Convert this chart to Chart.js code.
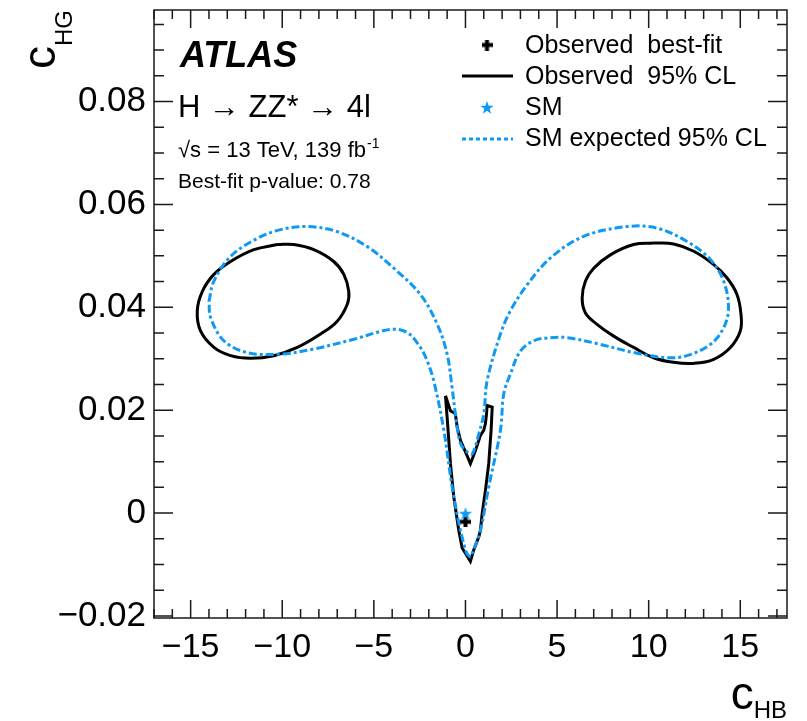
<!DOCTYPE html>
<html>
<head>
<meta charset="utf-8">
<title>cHG vs cHB</title>
<script src="https://cdn.jsdelivr.net/npm/chart.js@4.4.1/dist/chart.umd.min.js"></script>
<style>
    html, body { margin: 0; padding: 0; background: #fff; }
    #wrap { position: relative; width: 807px; height: 721px; }
</style>
</head>
<body>
<div id="wrap"><canvas id="contourChart"></canvas></div>
<script>
// Eksen aralıkları ve tick değerleri
const xRange = [-17, 17.55];
const yRange = [-0.0204, 0.0978];
const xMajorTicks = [-15, -10, -5, 0, 5, 10, 15];
const yMajorTicks = [-0.02, 0, 0.02, 0.04, 0.06, 0.08];
const xMinorStep = 1;
const yMinorStep = 0.005;

// Gözlenen %95 CL konturu (üç parça)
const obsLeftLoop = [
    [-10.27, 0.0522], [-11.55, 0.0512], [-12.82, 0.0489], [-13.73, 0.0464], [-14.36, 0.0431],
    [-14.64, 0.0393], [-14.46, 0.0354], [-13.73, 0.0322], [-12.82, 0.0306], [-11.73, 0.0301],
    [-10.46, 0.0306], [-9.18, 0.0322], [-7.91, 0.0348], [-7.0, 0.0373], [-6.45, 0.0406],
    [-6.37, 0.0431], [-6.64, 0.0464], [-7.19, 0.0489], [-8.28, 0.0512], [-9.37, 0.0522],
    [-10.27, 0.0522]
];
const obsRightLoop = [
    [10.27, 0.0525], [9.18, 0.0522], [7.91, 0.0502], [7.0, 0.0476], [6.55, 0.0451],
    [6.37, 0.0418], [6.55, 0.0389], [7.18, 0.0367], [8.09, 0.0344], [9.18, 0.0322],
    [10.27, 0.0302], [11.36, 0.0293], [12.46, 0.0291], [13.55, 0.0299], [14.46, 0.0322],
    [15.0, 0.0354], [15.04, 0.0386], [14.82, 0.0425], [14.28, 0.0457], [13.55, 0.0483],
    [12.46, 0.0509], [11.36, 0.0523], [10.27, 0.0525]
];
const obsCentre = [
    [-1.09, 0.0228], [-0.82, 0.0199], [-0.55, 0.0193], [-0.45, 0.0167], [-0.27, 0.0141],
    [0.0, 0.0119], [0.27, 0.0096], [0.55, 0.0122], [0.82, 0.0151], [1.0, 0.0161],
    [1.09, 0.0174], [1.15, 0.0193], [1.18, 0.0209], [1.46, 0.0206], [1.40, 0.0161],
    [1.27, 0.0096], [1.09, 0.0044], [0.91, -0.0001], [0.82, -0.0033], [0.73, -0.0046],
    [0.45, -0.0072], [0.27, -0.0094], [-0.18, -0.0068], [-0.37, -0.0033], [-0.64, 0.0032],
    [-0.82, 0.0096], [-1.0, 0.0186], [-1.09, 0.0228]
];

// SM beklenen %95 CL konturu (tek kapalı eğri)
const expContour = [
    [-14.0, 0.0412], [-13.73, 0.0451], [-12.82, 0.0499], [-11.36, 0.0534], [-10.09, 0.0551],
    [-8.64, 0.0557], [-7.0, 0.0547], [-5.36, 0.0518], [-3.91, 0.0476], [-2.46, 0.0425],
    [-1.54, 0.0367], [-1.0, 0.0309], [-0.73, 0.0244], [-0.55, 0.0193], [-0.27, 0.0135],
    [0.09, 0.0119], [0.37, 0.0115], [0.73, 0.0154], [1.0, 0.0193], [1.18, 0.0257],
    [1.91, 0.0348], [2.45, 0.0393], [3.37, 0.0444], [4.64, 0.0496], [6.45, 0.0538],
    [8.82, 0.0557], [10.46, 0.0554], [12.09, 0.0528], [13.37, 0.0493], [14.09, 0.0451],
    [14.36, 0.0399], [14.09, 0.0360], [13.37, 0.0328], [12.09, 0.0306], [11.0, 0.0302],
    [9.18, 0.0312], [7.36, 0.0328], [5.55, 0.0341], [4.64, 0.0341], [3.73, 0.0335],
    [3.0, 0.0315], [2.45, 0.0270], [2.09, 0.0232], [1.91, 0.0161], [1.27, 0.0051],
    [0.82, -0.0033], [0.37, -0.0078], [0.27, -0.0085], [0.0, -0.0072], [-0.64, 0.0032],
    [-1.18, 0.0161], [-1.73, 0.0257], [-2.09, 0.0296], [-2.46, 0.0322], [-3.18, 0.0351],
    [-4.09, 0.0357], [-6.09, 0.0338], [-8.28, 0.0319], [-10.09, 0.0309], [-11.91, 0.0312],
    [-13.19, 0.0335], [-13.91, 0.0380], [-14.0, 0.0412]
];

const smPoint = [[0, 0]];
const bestFitPoint = [[0.0, -0.0017]];

const SM_BLUE = '#0d99f5';
const FONT = "'Liberation Sans', Arial, Helvetica, sans-serif";

const toPoints = arr => arr.map(p => ({ x: p[0], y: p[1] }));
const fmtTick = v => v < 0 ? '\u2212' + Math.abs(v) : String(v);

// Dolu yıldız ve kalın artı işaretleri
function makeStar(size, color) {
    const c = document.createElement('canvas');
    c.width = size; c.height = size;
    const g = c.getContext('2d');
    const r1 = size / 2, r2 = size / 5;
    g.beginPath();
    for (let i = 0; i < 10; i++) {
        const r = i % 2 === 0 ? r1 : r2;
        const a = -Math.PI / 2 + i * Math.PI / 5;
        g.lineTo(size / 2 + r * Math.cos(a), size / 2 + 1 + r * Math.sin(a));
    }
    g.closePath();
    g.fillStyle = color;
    g.fill();
    return c;
}

function makeCross(size, thick, color) {
    const c = document.createElement('canvas');
    c.width = size; c.height = size;
    const g = c.getContext('2d');
    g.fillStyle = color;
    g.fillRect((size - thick) / 2, 0, thick, size);
    g.fillRect(0, (size - thick) / 2, size, thick);
    return c;
}

const starImg = makeStar(14, SM_BLUE);
const crossImg = makeCross(11, 4, '#000');

// Çerçeve ve içe dönük tick çizgileri (dört kenar)
const frameTicks = {
    id: 'frameTicks',
    afterDatasetsDraw(chart) {
        const { ctx, chartArea: a, scales: { x, y } } = chart;
        ctx.save();
        ctx.strokeStyle = '#1a1a1a';
        ctx.lineWidth = 1.5;
        ctx.strokeRect(a.left, a.top, a.right - a.left, a.bottom - a.top);
        ctx.beginPath();
        for (let k = Math.ceil(xRange[0] / xMinorStep); k * xMinorStep <= xRange[1]; k++) {
            const px = x.getPixelForValue(k * xMinorStep);
            const len = k % 5 === 0 ? 18 : 9;
            ctx.moveTo(px, a.bottom); ctx.lineTo(px, a.bottom - len);
            ctx.moveTo(px, a.top); ctx.lineTo(px, a.top + len);
        }
        for (let k = Math.ceil(yRange[0] / yMinorStep - 1e-6); k * yMinorStep <= yRange[1] + 1e-9; k++) {
            const py = y.getPixelForValue(k * yMinorStep);
            const len = k % 4 === 0 ? 19 : 10;
            ctx.moveTo(a.left, py); ctx.lineTo(a.left + len, py);
            ctx.moveTo(a.right, py); ctx.lineTo(a.right - len, py);
        }
        ctx.stroke();
        ctx.restore();
    }
};

// Metinler, eksen başlıkları ve lejant
const annotations = {
    id: 'annotations',
    afterDraw(chart) {
        const ctx = chart.ctx;
        ctx.save();
        ctx.fillStyle = '#000';
        ctx.textBaseline = 'alphabetic';
        ctx.textAlign = 'left';

        ctx.font = `italic bold 36px ${FONT}`;
        ctx.fillText('ATLAS', 180, 67);

        ctx.font = `31px ${FONT}`;
        ctx.fillText('H \u2192 ZZ* \u2192 4l', 178, 117);

        ctx.font = `22px ${FONT}`;
        const sq = '\u221As = 13 TeV, 139 fb';
        ctx.fillText(sq, 178, 157);
        const w = ctx.measureText(sq).width;
        ctx.font = `14px ${FONT}`;
        ctx.fillText('-1', 178 + w + 1, 148);
        ctx.font = `21px ${FONT}`;
        ctx.fillText('Best-fit p-value: 0.78', 178, 188);

        // x ekseni başlığı
        ctx.textAlign = 'right';
        ctx.font = `24px ${FONT}`;
        ctx.fillText('HB', 787, 718);
        const hbW = ctx.measureText('HB').width;
        ctx.font = `46px ${FONT}`;
        ctx.fillText('c', 787 - hbW, 709);

        // y ekseni başlığı
        ctx.save();
        ctx.translate(55, 10);
        ctx.rotate(-Math.PI / 2);
        ctx.textAlign = 'right';
        ctx.font = `24px ${FONT}`;
        ctx.fillText('HG', 0, 17);
        const hgW = ctx.measureText('HG').width;
        ctx.font = `46px ${FONT}`;
        ctx.fillText('c', -hgW, 0);
        ctx.restore();

        // lejant
        ctx.textAlign = 'left';
        ctx.font = `25px ${FONT}`;
        const legendX = 525;
        const rows = ['Observed  best-fit', 'Observed  95% CL', 'SM', 'SM expected 95% CL'];
        const baselines = [53, 84, 115, 146];
        rows.forEach((t, i) => ctx.fillText(t, legendX, baselines[i]));

        ctx.drawImage(crossImg, 487 - 5.5, 45 - 5.5);
        ctx.strokeStyle = '#000';
        ctx.lineWidth = 3;
        ctx.beginPath(); ctx.moveTo(462, 76); ctx.lineTo(513, 76); ctx.stroke();
        ctx.drawImage(starImg, 487 - 7, 107 - 7);
        ctx.strokeStyle = SM_BLUE;
        ctx.setLineDash([4, 3]);
        ctx.beginPath(); ctx.moveTo(462, 139); ctx.lineTo(513, 139); ctx.stroke();
        ctx.restore();
    }
};

const lineSet = (pts, color, tension, dash) => ({
    data: toPoints(pts),
    showLine: true,
    borderColor: color,
    borderWidth: 3,
    borderDash: dash || [],
    tension: tension,
    pointRadius: 0,
    fill: false
});

new Chart(document.getElementById('contourChart'), {
    type: 'scatter',
    data: {
        datasets: [
            lineSet(expContour, SM_BLUE, 0.35, [8, 3, 3, 3]),
            lineSet(obsLeftLoop, '#000', 0.4),
            lineSet(obsRightLoop, '#000', 0.4),
            lineSet(obsCentre, '#000', 0),
            { data: toPoints(smPoint), pointStyle: starImg, pointRadius: 7 },
            { data: toPoints(bestFitPoint), pointStyle: crossImg, pointRadius: 6 }
        ]
    },
    options: {
        responsive: true,
        maintainAspectRatio: false,
        animation: false,
        layout: { padding: { top: 10, right: 20, left: 0, bottom: 0 } },
        plugins: { legend: { display: false }, tooltip: { enabled: false } },
        scales: {
            x: {
                type: 'linear',
                min: xRange[0],
                max: xRange[1],
                grid: { display: false },
                border: { display: false },
                afterBuildTicks: s => { s.ticks = xMajorTicks.map(v => ({ value: v })); },
                ticks: { callback: fmtTick, color: '#000', font: { family: FONT, size: 34 }, padding: 1, maxRotation: 0 },
                afterFit: s => { s.height = 103; s.paddingLeft = 0; s.paddingRight = 0; }
            },
            y: {
                type: 'linear',
                min: yRange[0],
                max: yRange[1],
                grid: { display: false },
                border: { display: false },
                afterBuildTicks: s => { s.ticks = yMajorTicks.map(v => ({ value: v })); },
                ticks: { callback: fmtTick, color: '#000', font: { family: FONT, size: 35 }, padding: 0 },
                afterFit: s => { s.width = 154; s.paddingTop = 0; s.paddingBottom = 0; }
            }
        }
    },
    plugins: [frameTicks, annotations]
});
</script>
</body>
</html>
